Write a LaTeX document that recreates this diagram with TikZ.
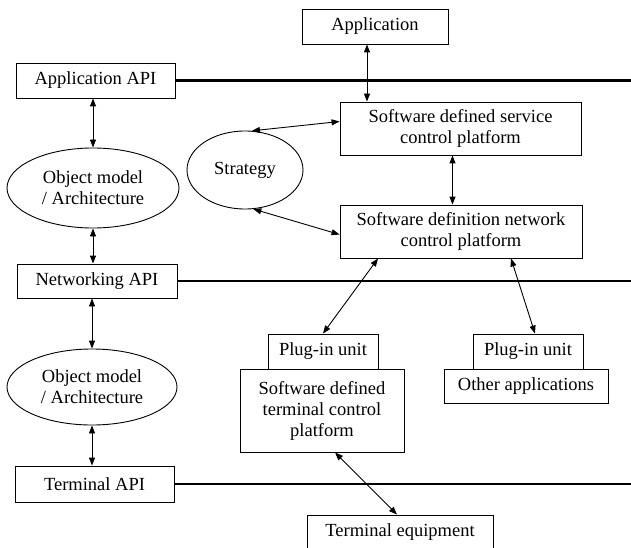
\documentclass[tikz,border=0pt]{standalone}
\usepackage{fontspec}
\setmainfont{Liberation Serif}
\usetikzlibrary{arrows.meta,shapes.geometric}

\tikzset{
  box/.style={draw, line width=0.9pt, inner sep=2pt, align=center},
  oval/.style={draw, ellipse, line width=0.9pt, inner sep=0pt, align=center},
  link/.style={{Triangle[length=8pt,width=6pt]}-{Triangle[length=8pt,width=6pt]}, line width=0.9pt},
  apiline/.style={line width=2.2pt}
}

\begin{document}
\begin{tikzpicture}[x=1pt,y=-1pt,font=\fontsize{18.5}{21}\selectfont]
    \useasboundingbox (0,0) rectangle (631,548);
    \clip (0,0) rectangle (631,548);
    \coordinate (rightedge) at (631,0);

    % API layers on the left
    \node[box, minimum width=159pt, minimum height=35pt] (appapi) at (95.5,80.5){Application API};
    \node[box, minimum width=160pt, minimum height=34pt] (netapi) at (97,281){Networking API};
    \node[box, minimum width=159pt, minimum height=36pt] (termapi) at (94.5,484){Terminal API};
    \draw[apiline] (appapi.east) -- (appapi.east -| rightedge);
    \draw[apiline] (netapi.east) -- (netapi.east -| rightedge);
    \draw[apiline] (termapi.east) -- (termapi.east -| rightedge);

    \node[oval, minimum width=172pt, minimum height=80pt] (objmodelA) at (93,188){Object model\\/ Architecture};
    \node[oval, minimum width=170pt, minimum height=76pt] (objmodelB) at (92,387){Object model\\/ Architecture};

    % platforms
    \node[box, minimum width=146pt, minimum height=35pt] (app) at (375,26.5){Application};
    \node[box, minimum width=241pt, minimum height=53pt] (service) at (460.5,128.5){Software defined service\\control platform};
    \node[box, minimum width=242pt, minimum height=53pt] (network) at (461,231.5){Software definition network\\control platform};
    \node[oval, minimum width=116pt, minimum height=78pt] (strategy) at (245,170){Strategy};

    \node[box, minimum width=110pt, minimum height=35pt] (plugA) at (323,351.5){Plug-in unit};
    \node[box, minimum width=164pt, minimum height=83pt] (termctl) at (322,410.5){Software defined\\terminal control\\platform};
    \node[box, minimum width=110pt, minimum height=35pt] (plugB) at (528,351.5){Plug-in unit};
    \node[box, minimum width=164pt, minimum height=34pt] (other) at (526,386){Other applications};
    \node[box, minimum width=186pt, minimum height=35pt] (termeq) at (400,532.5){Terminal equipment};

    % connections
    \draw[link] (objmodelA.north |- appapi.south) -- (objmodelA.north);
    \draw[link] (objmodelA.south) -- (objmodelA.south |- netapi.north);
    \draw[link] (objmodelB.north |- netapi.south) -- (objmodelB.north);
    \draw[link] (objmodelB.south) -- (objmodelB.south |- termapi.north);

    \draw[link] ([xshift=-8pt]app.south) -- ([xshift=-8pt]app.south |- service.north);
    \draw[link] ([xshift=-8pt]service.south) -- ([xshift=-8pt]service.south |- network.north);
    \draw[link] ([yshift=7pt]service.west) -- (strategy.80);
    \draw[link] ([yshift=-3pt]network.west) -- (strategy.-78);
    \draw[link] ([xshift=-83pt]network.south) -- (plugA.north);
    \draw[link] ([xshift=50pt]network.south) -- ([xshift=7pt]plugB.north);
    \draw[link] ([xshift=13pt]termctl.south) -- ([xshift=-3pt]termeq.north);
\end{tikzpicture}
\end{document}
